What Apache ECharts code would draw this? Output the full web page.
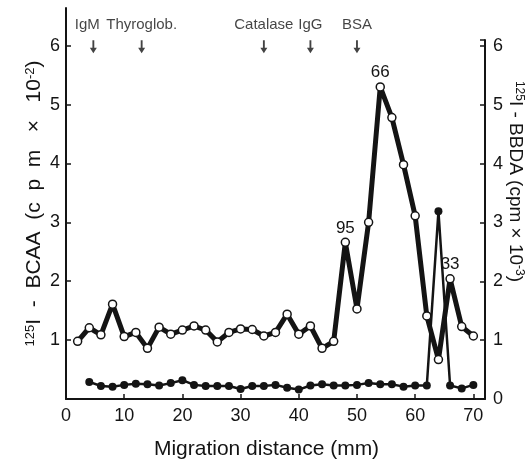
<!DOCTYPE html>
<html>
<head>
<meta charset="utf-8">
<script src="https://cdn.jsdelivr.net/npm/echarts@6/dist/echarts.min.js"></script>
<style>
  html, body { margin: 0; padding: 0; background: #fff; }
  #chart { width: 531px; height: 461px; }
</style>
</head>
<body>
<div id="chart"></div>
<script>
// Migration distance (mm) for each fraction
const bcaaX = [2, 4, 6, 8, 10, 12, 14, 16, 18, 20, 22, 24, 26, 28, 30, 32, 34, 36, 38, 40, 42, 44, 46, 48, 50, 52, 54, 56, 58, 60, 62, 64, 66, 68, 70];
// 125I-BCAA (cpm x 10^-2), open circles
const bcaaY = [0.98, 1.21, 1.09, 1.61, 1.06, 1.13, 0.86, 1.22, 1.10, 1.17, 1.24, 1.17, 0.97, 1.13, 1.19, 1.18, 1.07, 1.13, 1.44, 1.10, 1.24, 0.86, 0.98, 2.66, 1.53, 3.00, 5.30, 4.78, 3.98, 3.11, 1.41, 0.67, 2.04, 1.23, 1.07];

const bbdaX = [4, 6, 8, 10, 12, 14, 16, 18, 20, 22, 24, 26, 28, 30, 32, 34, 36, 38, 40, 42, 44, 46, 48, 50, 52, 54, 56, 58, 60, 62, 64, 66, 68, 70];
// 125I-BBDA (cpm x 10^-3), filled circles
const bbdaY = [0.29, 0.22, 0.21, 0.24, 0.26, 0.25, 0.23, 0.27, 0.32, 0.24, 0.22, 0.22, 0.22, 0.17, 0.22, 0.22, 0.24, 0.19, 0.16, 0.23, 0.25, 0.23, 0.23, 0.24, 0.27, 0.25, 0.25, 0.21, 0.23, 0.23, 3.19, 0.23, 0.18, 0.24];

// Peak annotations (molecular weight, kDa) on the BCAA curve
const peakX = [48, 54, 66];
const peakText = ['95', '66', '33'];

// Marker proteins
const markerNames = ['IgM', 'Thyroglob.', 'Catalase', 'IgG', 'BSA'];
const markerX = [4.7, 13, 34, 42, 50];
const markerLevel = 5.98;

const xTicks = [0, 10, 20, 30, 40, 50, 60, 70];
const leftTicks = [1, 2, 3, 4, 5, 6];
const rightTicks = [0, 1, 2, 3, 4, 5, 6];

const FONT = 'Liberation Sans, Arial, Helvetica, sans-serif';
const INK = '#141414';

const chart = echarts.init(document.getElementById('chart'), null, { renderer: 'canvas' });

const bcaaData = bcaaX.map((x, i) => {
  const k = peakX.indexOf(x);
  const item = { value: [x, bcaaY[i]] };
  if (k >= 0) {
    item.label = { show: true, formatter: peakText[k], position: 'top', distance: 1,
      fontSize: 17, color: INK, fontFamily: FONT };
  }
  return item;
});

const markerData = markerX.map((x, i) => ({
  value: [x, markerLevel], name: markerNames[i],
  label: i === 0 ? { offset: [-6, 0] } : {}
}));

const arrowPath = 'path://M3.8,0 L6.2,0 L6.2,9 L9.5,9 L5,16 L0.5,9 L3.8,9 Z';

chart.setOption({
  animation: false,
  backgroundColor: '#fff',
  grid: [
    { left: 66, right: 46, top: 8, bottom: 62, containLabel: false, outerBoundsMode: 'none' },
    { left: 66, right: 46, top: 40, bottom: 62, containLabel: false, outerBoundsMode: 'none' }
  ],
  xAxis: [
    {
      gridIndex: 0, type: 'value', min: 0, max: 72,
      name: 'Migration distance (mm)', nameLocation: 'middle', nameGap: 40, nameMoveOverlap: false,
      nameTextStyle: { fontSize: 21, color: INK, fontFamily: FONT, padding: [0, 18, 0, 0] },
      axisLine: { show: true, onZero: false, lineStyle: { color: INK, width: 2 } },
      axisTick: { show: true, inside: true, length: 5, customValues: xTicks, lineStyle: { color: INK, width: 1.5 } },
      axisLabel: { customValues: xTicks, fontSize: 18, color: INK, fontFamily: FONT, margin: 8 },
      splitLine: { show: false }
    },
    {
      gridIndex: 1, type: 'value', min: 0, max: 72, show: false
    }
  ],
  yAxis: [
    {
      gridIndex: 0, type: 'value', min: 0, max: 6.64, position: 'left',
      name: '{sup|125}I  -  BCAA  (c  p  m   ×   10{sup|-2})',
      nameLocation: 'middle', nameRotate: 90, nameGap: 21, nameMoveOverlap: false,
      nameTextStyle: { fontSize: 21, color: INK, fontFamily: FONT,
        rich: { sup: { fontSize: 13, verticalAlign: 'top', color: INK, fontFamily: FONT } } },
      axisLine: { show: true, onZero: false, lineStyle: { color: INK, width: 2 } },
      axisTick: { show: true, inside: true, length: 5, customValues: leftTicks, lineStyle: { color: INK, width: 1.5 } },
      axisLabel: { customValues: leftTicks, fontSize: 18, color: INK, fontFamily: FONT, margin: 6 },
      splitLine: { show: false }
    },
    {
      gridIndex: 1, type: 'value', min: 0, max: 6.1, position: 'right',
      name: '{sup|125}I - BBDA (cpm × 10{sup|-3})',
      nameLocation: 'middle', nameRotate: -90, nameGap: 21, nameMoveOverlap: false,
      nameTextStyle: { fontSize: 19, color: INK, fontFamily: FONT, padding: [0, 76, 0, 0],
        rich: { sup: { fontSize: 12, verticalAlign: 'top', color: INK, fontFamily: FONT } } },
      axisLine: { show: true, onZero: false, lineStyle: { color: INK, width: 2 } },
      axisTick: { show: true, inside: true, length: 5, customValues: rightTicks.concat([6.1]), lineStyle: { color: INK, width: 1.5 } },
      axisLabel: { customValues: rightTicks, fontSize: 18, color: INK, fontFamily: FONT, margin: 8 },
      splitLine: { show: false }
    }
  ],
  series: [
    {
      name: 'BBDA', type: 'line', xAxisIndex: 1, yAxisIndex: 1, z: 2,
      data: bbdaX.map((x, i) => [x, bbdaY[i]]),
      symbol: 'circle', symbolSize: 8, showAllSymbol: true,
      lineStyle: { color: INK, width: 2.5 },
      itemStyle: { color: INK, borderColor: INK, borderWidth: 0 }
    },
    {
      name: 'BCAA', type: 'line', xAxisIndex: 0, yAxisIndex: 0, z: 3,
      data: bcaaData,
      symbol: 'circle', symbolSize: 8, showAllSymbol: true,
      lineStyle: { color: INK, width: 5 },
      itemStyle: { color: '#fff', borderColor: INK, borderWidth: 1.5 }
    },
    {
      name: 'Markers', type: 'scatter', xAxisIndex: 0, yAxisIndex: 0,
      data: markerData,
      symbol: arrowPath, symbolSize: [7, 13],
      itemStyle: { color: INK },
      label: { show: true, position: 'top', distance: 8, formatter: '{b}',
        fontSize: 15, color: INK, fontFamily: FONT }
    }
  ]
});
</script>
</body>
</html>
